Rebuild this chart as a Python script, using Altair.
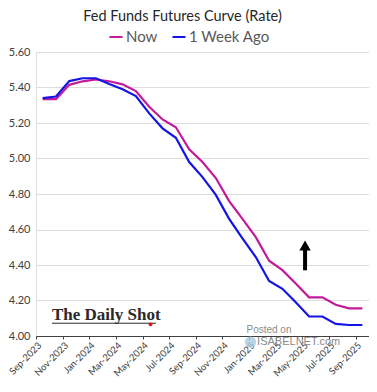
import altair as alt
import pandas as pd

# ---- data ----
months = ["Sep-2023", "Oct-2023", "Nov-2023", "Dec-2023", "Jan-2024", "Feb-2024",
          "Mar-2024", "Apr-2024", "May-2024", "Jun-2024", "Jul-2024", "Aug-2024",
          "Sep-2024", "Oct-2024", "Nov-2024", "Dec-2024", "Jan-2025", "Feb-2025",
          "Mar-2025", "Apr-2025", "May-2025", "Jun-2025", "Jul-2025", "Aug-2025",
          "Sep-2025"]
now = [5.335, 5.335, 5.415, 5.435, 5.445, 5.435, 5.418, 5.38, 5.292, 5.22,
       5.176, 5.052, 4.98, 4.89, 4.76, 4.66, 4.557, 4.424, 4.371, 4.296,
       4.218, 4.218, 4.176, 4.156, 4.156]
week_ago = [5.34, 5.349, 5.436, 5.452, 5.452, 5.42, 5.39, 5.352, 5.254, 5.17,
            5.117, 4.98, 4.895, 4.795, 4.66, 4.55, 4.445, 4.31, 4.266, 4.19,
            4.11, 4.11, 4.068, 4.062, 4.062]
series_names = ["Now", "1 Week Ago"]
series_colors = ["#C21A9A", "#1414E6"]
y_ticks = [4.0, 4.2, 4.4, 4.6, 4.8, 5.0, 5.2, 5.4, 5.6]
tick_labels = months[::2]

rows = []
for name, vals in zip(series_names, [now, week_ago]):
    for i, (m, v) in enumerate(zip(months, vals)):
        rows.append({"m": i + 0.5, "month": m, "rate": v, "series": name})
df = pd.DataFrame(rows)

FONT = "Lato"
x_scale = alt.Scale(domain=[0, 25], nice=False, zero=False)
y_scale = alt.Scale(domain=[4.0, 5.6], nice=False, zero=False)

label_arr = "[" + ",".join("'%s'" % t for t in tick_labels) + "]"

x_axis = alt.Axis(values=list(range(0, 25, 2)),
                  labelExpr=label_arr + "[round(datum.value/2)]",
                  labelAngle=-45, title=None, grid=False,
                  domainColor="#404040", tickColor="#404040",
                  tickSize=3, labelFontSize=9.5, labelColor="#404040",
                  labelFont=FONT, labelPadding=1, labelBound=False,
                  labelOverlap=False, labelFlush=False)
y_axis = alt.Axis(values=y_ticks, format=".2f", title=None,
                  domain=False, ticks=False, gridColor="#DDDDDD",
                  labelFontSize=11, labelColor="#404040",
                  labelFont=FONT, labelPadding=6,
                  labelOverlap=False, labelFlush=False)

def X(field):
    return alt.X(field, scale=x_scale, axis=x_axis)

def Y(field):
    return alt.Y(field, scale=y_scale, axis=y_axis)

lines = alt.Chart(df).mark_line(strokeWidth=2.2, clip=False).encode(
    x=X("m:Q"),
    y=Y("rate:Q"),
    color=alt.Color("series:N",
                    scale=alt.Scale(domain=series_names, range=series_colors),
                    legend=alt.Legend(orient="none", legendX=72, legendY=-23,
                                      direction="horizontal", title=None,
                                      symbolType="stroke", symbolStrokeWidth=2,
                                      symbolSize=170, labelFontSize=15,
                                      labelFont=FONT, labelColor="#595959",
                                      columnPadding=10, labelOffset=2)),
    detail="series:N",
)

# ---- annotations (data units) ----
arrow_x = [20.2]
arrow_y1 = [4.37]
arrow_y2 = [4.51]
arrow_df = pd.DataFrame({"x": arrow_x, "y1": arrow_y1, "y2": arrow_y2})
shaft = alt.Chart(arrow_df).mark_rule(strokeWidth=4, color="black").encode(
    x=X("x:Q"), y=Y("y1:Q"), y2="y2:Q")
head = alt.Chart(arrow_df).mark_point(shape="triangle-up", filled=True,
                                      color="black", size=130, opacity=1).encode(
    x=X("x:Q"), y=Y("y2:Q"))

brand_df = pd.DataFrame({"x": [1.2], "y": [4.09], "t": ["The Daily Shot"]})
brand = alt.Chart(brand_df).mark_text(align="left", baseline="alphabetic",
                                      font="Liberation Serif", fontSize=17,
                                      fontWeight="bold", color="#2A2A2A").encode(
    x=X("x:Q"), y=Y("y:Q"), text="t:N")
underline_df = pd.DataFrame({"x1": [1.2], "x2": [9.0], "y": [4.072]})
underline = alt.Chart(underline_df).mark_rule(strokeWidth=1, color="#2A2A2A").encode(
    x=X("x1:Q"), x2="x2:Q", y=Y("y:Q"))
dot_df = pd.DataFrame({"x": [8.6], "y": [4.066]})
dot = alt.Chart(dot_df).mark_point(filled=True, color="#E01010", size=14,
                                   opacity=1).encode(x=X("x:Q"), y=Y("y:Q"))

posted_df = pd.DataFrame({"x": [15.8, 16.6], "y": [4.035, 3.965],
                          "t": ["Posted on", "ISABELNET.com"],
                          "s": [10, 11]})
posted = alt.Chart(posted_df).mark_text(align="left", baseline="middle",
                                        font="Liberation Sans", color="#8A8A8A",
                                        clip=False).encode(
    x=X("x:Q"), y=Y("y:Q"), text="t:N",
    size=alt.Size("s:Q", scale=None, legend=None))
globe_df = pd.DataFrame({"x": [16.1], "y": [3.965]})
globe = alt.Chart(globe_df).mark_point(filled=True, color="#A9C8E0", size=130,
                                       opacity=0.8, clip=False).encode(
    x=X("x:Q"), y=Y("y:Q"))

chart = alt.layer(lines, shaft, head, underline, brand, dot, globe, posted).properties(
    width=333, height=284,
    title=alt.TitleParams("Fed Funds Futures Curve (Rate)", fontSize=14.5,
                          font=FONT, fontWeight="normal", color="#262626",
                          anchor="middle", dx=-20, dy=3, offset=8),
    autosize=alt.AutoSizeParams(type="none"),
    padding={"left": 28, "top": 44, "right": 0, "bottom": 44},
).configure_view(strokeWidth=0).configure(background="white")

chart.save("out.html", embed_options={"renderer": "svg", "actions": False})
